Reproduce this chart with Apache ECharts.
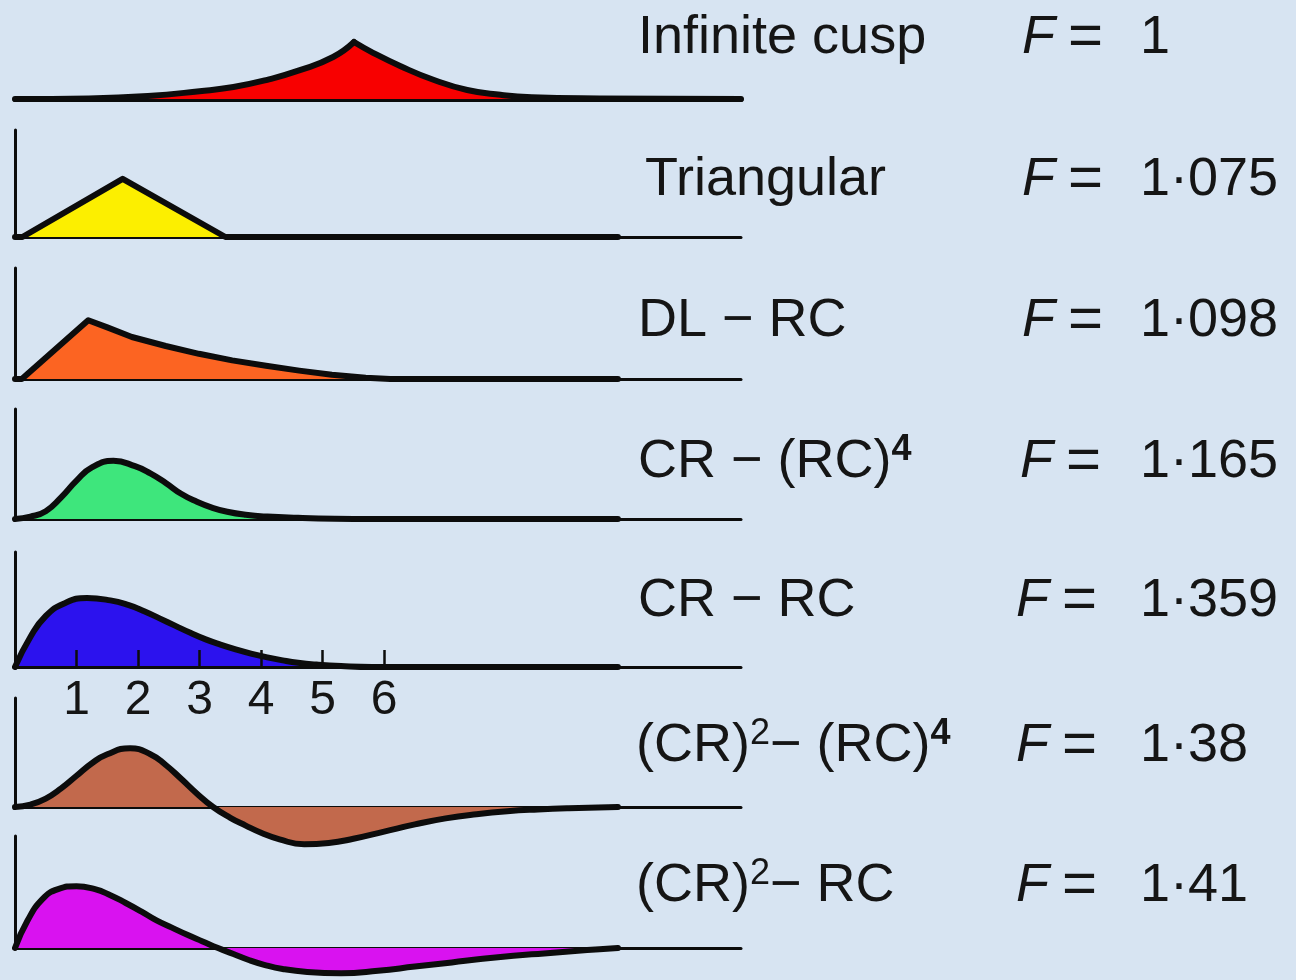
<!DOCTYPE html>
<html>
<head>
<meta charset="utf-8">
<script src="https://cdn.jsdelivr.net/npm/echarts@6/dist/echarts.min.js"></script>
<style>
  html, body { margin: 0; padding: 0; background: #d7e4f2; }
  #chart { width: 1296px; height: 980px; }
</style>
</head>
<body>
<div id="chart"></div>
<script>
// Pulse shapes as [time, amplitude]; time is in the units marked 1..6 under the CR–RC pulse,
// amplitude is relative pulse height.
const cuspRise = [[0, 0], [1.2, 0.01], [2.16, 0.05], [3.0, 0.13], [3.55, 0.2], [4.1, 0.32], [4.63, 0.48], [5.17, 0.7], [5.51, 0.95]];
const cuspFall = [[5.51, 0.95], [5.82, 0.77], [6.26, 0.55], [6.8, 0.32], [7.35, 0.15], [7.89, 0.07], [8.4, 0.03], [9.5, 0.01], [11.8, 0]];
const triangular = [[0, 0], [0.12, 0], [1.75, 0.97], [3.42, 0], [9.8, 0]];
const dlRc = [[0, 0], [0.11, 0], [1.19, 0.98], [1.5, 0.86], [1.9, 0.7], [2.45, 0.55], [2.99, 0.42], [3.53, 0.31], [4.08, 0.22], [4.62, 0.14], [5.15, 0.07], [5.7, 0.02], [6.1, 0], [9.8, 0]];
const crRc4 = [[0, 0], [0.25, 0.04], [0.5, 0.13], [0.75, 0.36], [1.0, 0.64], [1.25, 0.86], [1.6, 0.97], [1.95, 0.88], [2.2, 0.76], [2.45, 0.6], [2.7, 0.42], [2.95, 0.29], [3.2, 0.19], [3.45, 0.12], [3.75, 0.07], [4.1, 0.04], [4.6, 0.02], [5.2, 0.005], [5.8, 0], [9.8, 0]];
const crRc = [[0, 0], [0.25, 0.5], [0.5, 0.85], [0.8, 1.06], [1.17, 1.15], [1.55, 1.11], [1.85, 1.03], [2.1, 0.93], [2.35, 0.81], [2.6, 0.69], [2.85, 0.57], [3.1, 0.46], [3.35, 0.37], [3.6, 0.29], [3.85, 0.22], [4.1, 0.16], [4.35, 0.11], [4.6, 0.07], [4.9, 0.04], [5.3, 0.015], [5.8, 0], [9.8, 0]];
const cr2Rc4 = [[0, 0], [0.25, 0.04], [0.5, 0.14], [0.75, 0.31], [1.0, 0.52], [1.25, 0.73], [1.5, 0.88], [1.87, 0.98], [2.2, 0.88], [2.45, 0.7], [2.7, 0.47], [2.95, 0.23], [3.22, 0], [3.5, -0.18], [3.75, -0.31], [4.0, -0.43], [4.3, -0.54], [4.7, -0.62], [5.1, -0.6], [5.5, -0.53], [6.0, -0.41], [6.5, -0.29], [7.0, -0.19], [7.5, -0.12], [8.0, -0.07], [8.5, -0.04], [9.0, -0.02], [9.8, 0]];
const cr2Rc = [[0, 0], [0.2, 0.45], [0.45, 0.82], [0.7, 0.98], [1.0, 1.03], [1.3, 0.98], [1.55, 0.88], [1.8, 0.75], [2.05, 0.61], [2.3, 0.46], [2.55, 0.34], [2.8, 0.22], [3.05, 0.11], [3.3, 0], [3.55, -0.1], [3.8, -0.2], [4.05, -0.28], [4.35, -0.35], [4.75, -0.4], [5.3, -0.42], [5.9, -0.38], [6.5, -0.31], [7.1, -0.24], [7.6, -0.18], [8.1, -0.13], [8.6, -0.09], [9.1, -0.05], [9.5, -0.02], [9.8, 0]];

// Shaper names ({sup|..} marks an exponent) and their noise factors F
const shaperNames = ['Infinite cusp', 'Triangular', 'DL − RC', 'CR − (RC){supB|4}', 'CR − RC', '(CR){sup|2}− (RC){supB|4}', '(CR){sup|2}− RC'];
const noiseFactors = ['1', '1·075', '1·098', '1·165', '1·359', '1·38', '1·41'];
const timeTicks = [1, 2, 3, 4, 5, 6];

const fillColors = ['#f80000', '#fcef00', '#fc6422', '#3ee67c', '#2c12ee', '#c2694c', '#d912f0'];
const INK = '#0c0c0c';
const TEXT = '#151515';
const FONT = 'Liberation Sans';

// Curve pieces per panel (the cusp keeps a sharp corner at its peak)
const panelCurves = [
  [{ data: cuspRise, smooth: 0.5 }, { data: cuspFall, smooth: 0.5 }],
  [{ data: triangular, smooth: false }],
  [{ data: dlRc, smooth: false }],
  [{ data: crRc4, smooth: 0.5 }],
  [{ data: crRc, smooth: 0.5 }],
  [{ data: cr2Rc4, smooth: 0.5 }],
  [{ data: cr2Rc, smooth: 0.5 }]
];

// Layout: pixel positions of each panel's baseline and axis top, and of the text rows
const X_LEFT = 15, X_WIDTH = 726, T_MAX = 11.8, UNIT = 60;
const panelBase = [99, 237, 379, 519, 667, 807, 948];
const panelTop = [33, 130, 268, 409, 552, 698, 836];
const textMid = [38, 180, 321, 462, 601, 746, 886];
const nameX = [638, 645, 638, 638, 638, 636, 636];
const factorX = [1022, 1022, 1022, 1020, 1016, 1016, 1016];

const grids = [], xAxes = [], yAxes = [], series = [], graphics = [];

function textStyle(extra) {
  return Object.assign({
    fill: TEXT, fontSize: 54, fontFamily: FONT,
    textAlign: 'left', textVerticalAlign: 'middle', align: 'left', verticalAlign: 'middle'
  }, extra);
}

panelBase.forEach((base, i) => {
  const h = base - panelTop[i];
  grids.push({ left: X_LEFT, width: X_WIDTH, top: panelTop[i], height: h });
  const isScale = i === 4;
  xAxes.push({
    type: 'value', gridIndex: i, min: 0, max: T_MAX, z: isScale ? 5 : 0,
    axisLine: { show: true, onZero: false, lineStyle: { color: INK, width: i === 0 ? 5 : 3 } },
    axisTick: { show: isScale, inside: true, length: 17, customValues: timeTicks, lineStyle: { color: INK, width: 2.5 } },
    axisLabel: { show: isScale, customValues: timeTicks, margin: 10, fontSize: 48, fontFamily: FONT, color: TEXT },
    splitLine: { show: false }
  });
  yAxes.push({
    type: 'value', gridIndex: i, min: 0, max: h / UNIT,
    axisLine: { show: i > 0, onZero: false, lineStyle: { color: INK, width: 3 } },
    axisTick: { show: false }, axisLabel: { show: false }, splitLine: { show: false }
  });
  panelCurves[i].forEach(piece => {
    series.push({
      type: 'line', xAxisIndex: i, yAxisIndex: i,
      data: piece.data, smooth: piece.smooth,
      symbol: 'none', clip: false, silent: true,
      lineStyle: { color: INK, width: 6, cap: 'round', join: 'round' },
      areaStyle: { color: fillColors[i], opacity: 1 }
    });
  });

  graphics.push({
    type: 'text', x: nameX[i], y: textMid[i], silent: true,
    style: textStyle({
      text: shaperNames[i], lineHeight: 60,
      rich: {
        sup: { fontSize: 36, fontFamily: FONT, lineHeight: 38, verticalAlign: 'top', fill: TEXT },
        supB: { fontSize: 36, fontFamily: FONT, fontWeight: 'bold', lineHeight: 38, verticalAlign: 'top', fill: TEXT }
      }
    })
  });
  graphics.push({ type: 'text', x: factorX[i], y: textMid[i], silent: true, style: textStyle({ text: 'F', fontStyle: 'italic' }) });
  graphics.push({ type: 'text', x: factorX[i] + 46, y: textMid[i], silent: true, style: textStyle({ text: '=', fontSize: 60 }) });
  graphics.push({ type: 'text', x: 1140, y: textMid[i], silent: true, style: textStyle({ text: noiseFactors[i] }) });
});

const chart = echarts.init(document.getElementById('chart'));
chart.setOption({
  animation: false,
  backgroundColor: '#d7e4f2',
  grid: grids,
  xAxis: xAxes,
  yAxis: yAxes,
  series: series,
  graphic: { elements: graphics }
});
</script>
</body>
</html>
